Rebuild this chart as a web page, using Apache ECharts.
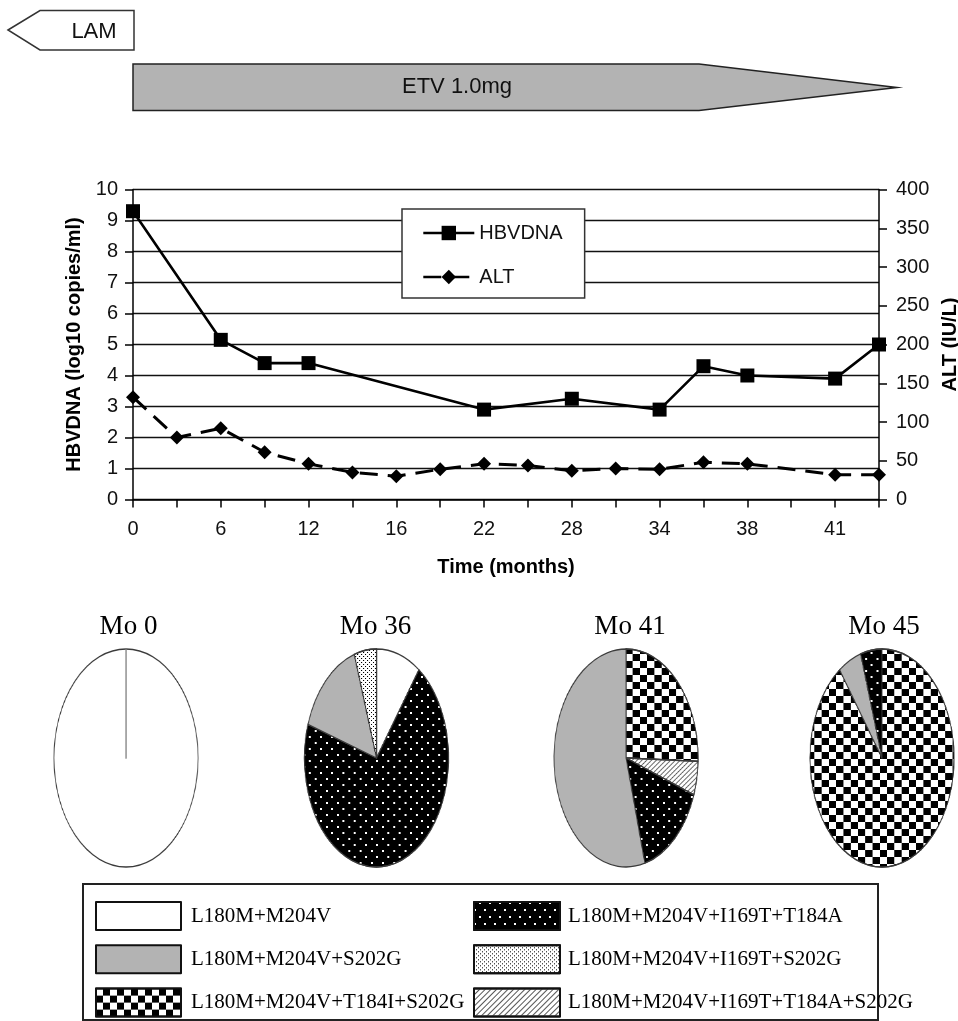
<!DOCTYPE html>
<html><head><meta charset="utf-8">
<script src="https://cdn.jsdelivr.net/npm/echarts@6/dist/echarts.min.js"></script>
<style>
html,body{margin:0;padding:0;background:#fff;}
#main{position:absolute;left:0;top:0;width:958px;height:1021px;}
#pies{position:absolute;left:0;top:640px;width:1449px;height:235px;transform:scaleX(0.661);transform-origin:0 0;pointer-events:none;}
</style></head><body>
<div id="main"></div><div id="pies"></div>
<script>
// ---------------- data ----------------
const months = ['0','3','6','9','12','14','16','19','22','25','28','31','34','36','38','40','41','45'];
const hbvdna = [9.3, null, 5.15, 4.4, 4.4, null, null, null, 2.9, null, 3.25, null, 2.9, 4.3, 4.0, null, 3.9, 5.0];
const alt    = [132, 80, 92, 61, 46, 35, 30, 39, 46, 44, 37, 40, 39, 48, 46, null, 32, 32];
const hbvTicks = {min: 0, max: 10, interval: 1};
const altTicks = {min: 0, max: 400, interval: 50};

const genotypes = ['L180M+M204V', 'L180M+M204V+S202G', 'L180M+M204V+T184I+S202G',
                   'L180M+M204V+I169T+T184A', 'L180M+M204V+I169T+S202G', 'L180M+M204V+I169T+T184A+S202G'];
const pieTitles = ['Mo 0', 'Mo 36', 'Mo 41', 'Mo 45'];
const mo0Names  = ['L180M+M204V', 'L180M+M204V+S202G'];
const mo0Values = [100, 0];
const mo36Names  = ['L180M+M204V', 'L180M+M204V+I169T+T184A', 'L180M+M204V+S202G', 'L180M+M204V+I169T+S202G'];
const mo36Values = [10, 70, 15, 5];
const mo41Names  = ['L180M+M204V+T184I+S202G', 'L180M+M204V+I169T+T184A+S202G', 'L180M+M204V+I169T+T184A', 'L180M+M204V+S202G'];
const mo41Values = [25.5, 5, 15.3, 54.2];
const mo45Names  = ['L180M+M204V+T184I+S202G', 'L180M+M204V+S202G', 'L180M+M204V+I169T+T184A'];
const mo45Values = [90, 5.2, 4.8];

// ---------------- styles ----------------
const SANS = 'Liberation Sans', SERIF = 'Liberation Serif';
const SX = 0.661;
const fills = ['#ffffff', '#b3b3b3', '#ffffff', '#000000', '#ffffff', '#ffffff'];
function decalFor(idx, squash) {
  const rot = squash ? -0.585 : -Math.PI / 4;
  switch (idx) {
    case 2: return squash
      ? {symbol:'rect', symbolSize:1, color:'#000', dashArrayX:[[11,11],[0,11,11,0]], dashArrayY:[7,0]}
      : {symbol:'rect', symbolSize:1, color:'#000', dashArrayX:[[7,7],[0,7,7,0]], dashArrayY:[7,0]};
    case 3: return squash
      ? {symbol:'rect', symbolSize:1, color:'#fff', dashArrayX:[[3,14],[0,8,3,6]], dashArrayY:[2,4]}
      : {symbol:'rect', symbolSize:1, color:'#fff', dashArrayX:[[2,8],[0,5,2,3]], dashArrayY:[2,5]};
    case 4: return squash
      ? {symbol:'rect', symbolSize:1, color:'#000', dashArrayX:[[2,4],[0,3,2,1]], dashArrayY:[1,1]}
      : {symbol:'rect', symbolSize:1, color:'#000', dashArrayX:[[1,3],[0,2,1,1]], dashArrayY:[1,1]};
    case 5: return {symbol:'rect', symbolSize:1, color:'#555', dashArrayX:[squash ? 2 : 1, 0], dashArrayY:[1,3], rotation:rot};
    default: return null;
  }
}
function sliceItem(name, value, squash) {
  const idx = genotypes.indexOf(name);
  const st = {color: fills[idx]};
  const d = decalFor(idx, squash);
  if (d) st.decal = d;
  if (value === 0) { st.borderColor = '#7a7a7a'; st.borderWidth = 2; }
  return {name: name, value: value, itemStyle: st};
}

// ---------------- main chart ----------------
const main = echarts.init(document.getElementById('main'), null, {renderer: 'canvas'});
const axisLine = {show: true, lineStyle: {color: '#000', width: 1.5}};
const axisTick = {show: true, length: 8, inside: false, lineStyle: {color: '#000', width: 1.5}};
const labelStyle = {fontFamily: SANS, fontSize: 20, color: '#111'};
const nameStyle = {fontFamily: SANS, fontSize: 20, fontWeight: 'bold', color: '#000'};
const pieTitleX = [128.5, 375.5, 630, 884];

main.setOption({
  animation: false,
  backgroundColor: '#fff',
  grid: {left: 133, right: 79, top: 189.5, bottom: 521.5, containLabel: false, outerBoundsMode: 'none'},
  xAxis: {
    type: 'category', data: months, boundaryGap: false,
    name: 'Time (months)', nameLocation: 'middle', nameGap: 58, nameTextStyle: nameStyle,
    axisLine: axisLine, axisTick: Object.assign({interval: 0}, axisTick),
    axisLabel: Object.assign({interval: 1, margin: 20}, labelStyle),
    splitLine: {show: false}
  },
  yAxis: [
    Object.assign({type: 'value', position: 'left',
      name: 'HBVDNA (log10 copies/ml)', nameLocation: 'middle', nameGap: 49, nameRotate: 90, nameTextStyle: nameStyle,
      axisLine: axisLine, axisTick: axisTick,
      axisLabel: Object.assign({margin: 15}, labelStyle),
      splitLine: {show: true, lineStyle: {color: '#111', width: 1.4}}}, hbvTicks),
    Object.assign({type: 'value', position: 'right',
      name: 'ALT (IU/L)', nameLocation: 'middle', nameGap: 61, nameRotate: 90, nameTextStyle: nameStyle,
      axisLine: axisLine, axisTick: axisTick,
      axisLabel: Object.assign({margin: 17}, labelStyle),
      splitLine: {show: false}}, altTicks)
  ],
  legend: [
    {data: ['HBVDNA', 'ALT'], orient: 'vertical', left: 402, top: 209, selectedMode: false,
     padding: [14, 22, 11, 20], itemWidth: 51, itemHeight: 18, itemGap: 24,
     borderColor: '#333', borderWidth: 1.5, backgroundColor: '#fff',
     lineStyle: {width: 2.6},
     textStyle: {fontFamily: SANS, fontSize: 20, color: '#111'}},
    {data: genotypes.slice(0, 3), orient: 'vertical', left: 95, top: 901, selectedMode: false, padding: 0,
     icon: 'rect', itemWidth: 85, itemHeight: 28, itemGap: 13.3,
     itemStyle: {borderColor: '#111', borderWidth: 2},
     textStyle: {fontFamily: SERIF, fontSize: 21, color: '#000', padding: [0, 0, 0, 5]}},
    {data: genotypes.slice(3), orient: 'vertical', left: 473, top: 901, selectedMode: false, padding: 0,
     icon: 'rect', itemWidth: 86, itemHeight: 28, itemGap: 13.3,
     itemStyle: {borderColor: '#111', borderWidth: 2},
     textStyle: {fontFamily: SERIF, fontSize: 21, color: '#000', padding: [0, 0, 0, 3]}}
  ],
  graphic: [
    {type: 'polygon', shape: {points: [[8, 30], [40, 10.5], [134, 10.5], [134, 50], [40, 50]]},
     style: {fill: '#fff', stroke: '#333', lineWidth: 1.5}},
    {type: 'text', style: {text: 'LAM', x: 94, y: 32, font: '22px "Liberation Sans"', align: 'center', verticalAlign: 'middle', fill: '#111'}},
    {type: 'polygon', shape: {points: [[133, 64], [699, 64], [897, 87.5], [699, 110.5], [133, 110.5]]},
     style: {fill: '#b3b3b3', stroke: '#222', lineWidth: 1.5}},
    {type: 'text', style: {text: 'ETV 1.0mg', x: 457, y: 87, font: '22px "Liberation Sans"', align: 'center', verticalAlign: 'middle', fill: '#111'}},
    {type: 'rect', shape: {x: 83, y: 884, width: 795, height: 136}, style: {fill: 'none', stroke: '#222', lineWidth: 2}}
  ].concat(pieTitles.map((t, i) => ({type: 'text', style: {text: t, x: pieTitleX[i], y: 627,
     font: '27px "Liberation Serif"', align: 'center', verticalAlign: 'middle', fill: '#000'}}))),
  series: [
    {name: 'HBVDNA', type: 'line', data: hbvdna, connectNulls: true, symbol: 'rect', symbolSize: 14,
     lineStyle: {color: '#000', width: 2.6}, itemStyle: {color: '#000'}, z: 4, silent: true},
    {name: 'ALT', type: 'line', yAxisIndex: 1, data: alt, connectNulls: true, symbol: 'diamond', symbolSize: 14,
     lineStyle: {color: '#000', width: 3, type: [18, 10]}, itemStyle: {color: '#000'}, z: 3, silent: true},
    {name: 'genotypes', type: 'pie', center: [-600, -600], radius: 1, silent: true,
     label: {show: false}, labelLine: {show: false},
     data: genotypes.map(g => sliceItem(g, 1, false))}
  ]
});

// ---------------- pies (horizontally squashed to ellipses) ----------------
const pies = echarts.init(document.getElementById('pies'), null, {renderer: 'canvas'});
const pieCentersX = [126, 376.5, 626, 882];
const pieNames = [mo0Names, mo36Names, mo41Names, mo45Names];
const pieValues = [mo0Values, mo36Values, mo41Values, mo45Values];
pies.setOption({
  animation: false,
  series: pieNames.map((names, i) => ({
    type: 'pie', center: [pieCentersX[i] / SX, 118], radius: 109, startAngle: 90, clockwise: true,
    silent: true, emphasis: {disabled: true}, label: {show: false}, labelLine: {show: false},
    itemStyle: {borderColor: '#3a3a3a', borderWidth: 1.3},
    data: names.map((n, j) => sliceItem(n, pieValues[i][j], true))
  }))
});
</script></body></html>
